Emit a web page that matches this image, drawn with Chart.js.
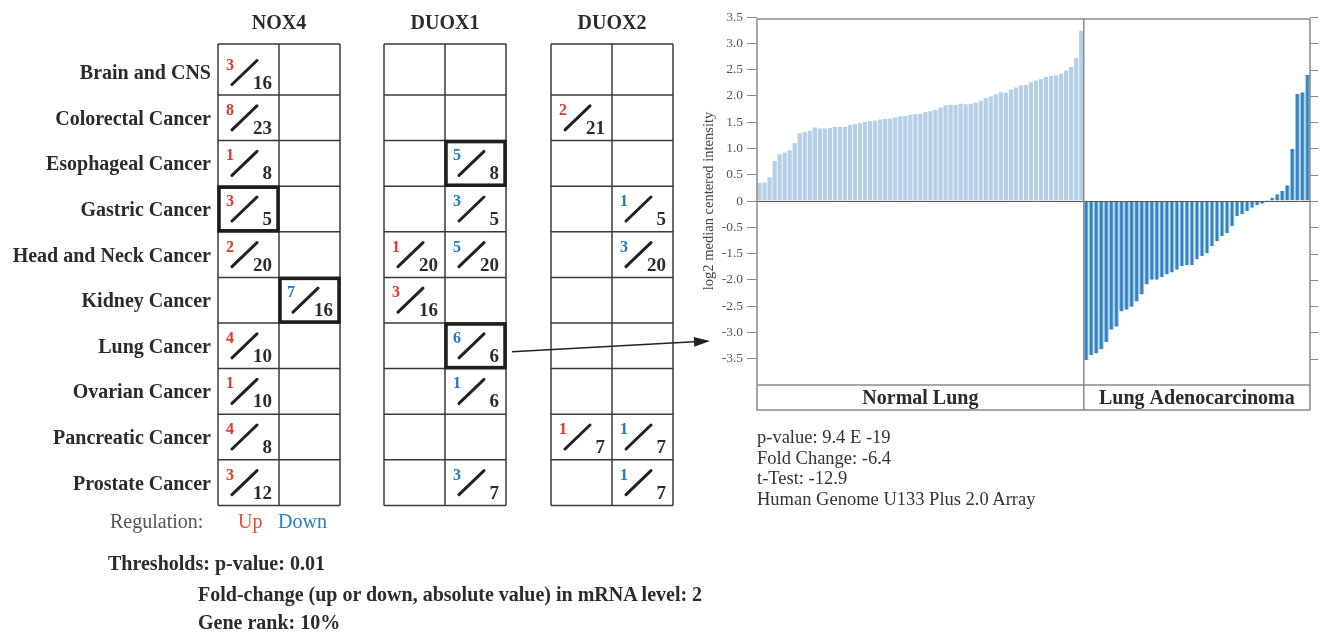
<!DOCTYPE html>
<html><head><meta charset="utf-8">
<script src="https://cdn.jsdelivr.net/npm/chart.js@4.4.0/dist/chart.umd.min.js"></script>
<style>
html,body{margin:0;padding:0;background:#fff;width:1320px;height:633px;overflow:hidden;}
#wrap{position:relative;width:1320px;height:633px;}
#chartBox{position:absolute;left:690px;top:0;width:630px;height:420px;}
#overlay{position:absolute;left:0;top:0;width:1320px;height:633px;pointer-events:none;}
</style></head><body>
<div id="wrap">
  <div id="chartBox"><canvas id="c" width="630" height="420"></canvas></div>
  <svg id="overlay" width="1320" height="633" xmlns="http://www.w3.org/2000/svg"></svg>
</div>
<script>
// ---------- DATA ----------
const cancerTypes = ["Brain and CNS","Colorectal Cancer","Esophageal Cancer","Gastric Cancer","Head and Neck Cancer","Kidney Cancer","Lung Cancer","Ovarian Cancer","Pancreatic Cancer","Prostate Cancer"];
const genes = ["NOX4","DUOX1","DUOX2"];
// number of analyses with significant regulation / total analyses (null = none)
const nox4UpCount    = [3,8,1,3,2,null,4,1,4,3];
const nox4UpTotal    = [16,23,8,5,20,null,10,10,8,12];
const nox4DownCount  = [null,null,null,null,null,7,null,null,null,null];
const nox4DownTotal  = [null,null,null,null,null,16,null,null,null,null];
const duox1UpCount   = [null,null,null,null,1,3,null,null,null,null];
const duox1UpTotal   = [null,null,null,null,20,16,null,null,null,null];
const duox1DownCount = [null,null,5,3,5,null,6,1,null,3];
const duox1DownTotal = [null,null,8,5,20,null,6,6,null,7];
const duox2UpCount   = [null,2,null,null,null,null,null,null,1,null];
const duox2UpTotal   = [null,21,null,null,null,null,null,null,7,null];
const duox2DownCount = [null,null,null,1,3,null,null,null,1,1];
const duox2DownTotal = [null,null,null,5,20,null,null,null,7,7];
// highlighted cells: [gene, direction, cancer type]
const highlightedCells = [["NOX4","up","Gastric Cancer"],["NOX4","down","Kidney Cancer"],["DUOX1","down","Esophageal Cancer"],["DUOX1","down","Lung Cancer"]];

const groupNames = ["Normal Lung","Lung Adenocarcinoma"];
const normalLung = [0.34,0.35,0.45,0.76,0.89,0.92,0.96,1.10,1.29,1.31,1.34,1.40,1.38,1.38,1.39,1.41,1.41,1.41,1.45,1.46,1.48,1.51,1.52,1.53,1.55,1.56,1.57,1.59,1.61,1.62,1.64,1.65,1.66,1.69,1.71,1.73,1.78,1.82,1.83,1.83,1.85,1.84,1.85,1.87,1.91,1.96,1.99,2.03,2.07,2.06,2.12,2.16,2.20,2.21,2.26,2.29,2.32,2.36,2.38,2.39,2.42,2.48,2.55,2.72,3.24];
const lungAdeno = [-3.03,-2.93,-2.90,-2.82,-2.68,-2.45,-2.39,-2.10,-2.07,-2.01,-1.91,-1.78,-1.59,-1.50,-1.50,-1.45,-1.40,-1.36,-1.31,-1.24,-1.22,-1.22,-1.11,-1.05,-0.99,-0.86,-0.76,-0.67,-0.61,-0.48,-0.29,-0.25,-0.19,-0.13,-0.08,-0.05,0.02,0.06,0.13,0.19,0.30,0.99,2.04,2.07,2.40];
const yTickValues = [-3,-2.5,-2,-1.5,-1,-0.5,0,0.5,1,1.5,2,2.5,3,3.5];
const yTickLabels = ["-3.5","-3.0","-2.5","-2.0","-1.5","-0.5","0","0.5","1.0","1.5","2.0","2.5","3.0","3.5"];
const statsLines = ["p-value: 9.4 E -19","Fold Change: -6.4","t-Test: -12.9","Human Genome U133 Plus 2.0 Array"];
const thresholdLines = ["Thresholds: p-value: 0.01","Fold-change (up or down, absolute value) in mRNA level: 2","Gene rank: 10%"];

// ---------- CHART ----------
const SERIF = '"Liberation Serif","Times New Roman",serif';
const nN = normalLung.length, nT = lungAdeno.length;
const sampleLabels = [...normalLung.map((_,i)=>'N'+(i+1)), ...lungAdeno.map((_,i)=>'T'+(i+1))];
const normalData = [...normalLung, ...lungAdeno.map(()=>null)];
const adenoData = [...normalLung.map(()=>null), ...lungAdeno];

const framePlugin = {
  id:'frame',
  afterDatasetsDraw(chart){
    const {ctx, chartArea:a, scales:{x,y}} = chart;
    const band = 25;
    ctx.save();
    const y0 = y.getPixelForValue(0);
    ctx.strokeStyle = '#5a5a5a'; ctx.lineWidth = 1;
    ctx.beginPath(); ctx.moveTo(a.left, y0+0.5); ctx.lineTo(a.right, y0+0.5); ctx.stroke();
    ctx.strokeStyle = '#8a8a8a'; ctx.lineWidth = 1.5;
    ctx.strokeRect(a.left, a.top+2, a.right-a.left, a.bottom+band-a.top-2);
    ctx.beginPath(); ctx.moveTo(a.left, a.bottom); ctx.lineTo(a.right, a.bottom); ctx.stroke();
    const div = (x.getPixelForValue(nN-1)+x.getPixelForValue(nN))/2;
    ctx.beginPath(); ctx.moveTo(div, a.top+2); ctx.lineTo(div, a.bottom+band); ctx.stroke();
    ctx.lineWidth = 1; ctx.strokeStyle = '#8a8a8a';
    yTickValues.forEach(v=>{const p=Math.round(y.getPixelForValue(v))+0.5; ctx.beginPath(); ctx.moveTo(a.right, p); ctx.lineTo(a.right+8, p); ctx.stroke();});
    ctx.fillStyle = '#2b2b2b'; ctx.font = 'bold 20px '+SERIF; ctx.textAlign='center'; ctx.textBaseline='middle';
    ctx.fillText(groupNames[0], (a.left+div)/2, a.bottom+band/2+1);
    ctx.fillText(groupNames[1], (div+a.right)/2, a.bottom+band/2+1);
    ctx.restore();
  }
};

new Chart(document.getElementById('c'), {
  type:'bar',
  data:{labels:sampleLabels, datasets:[
    {label:groupNames[0], data:normalData, backgroundColor:'#b5cfe6', grouped:false, barPercentage:0.84, categoryPercentage:1},
    {label:groupNames[1], data:adenoData, backgroundColor:'#3582c0', borderColor:'#8fc0e8', borderWidth:{left:1,right:1,top:0,bottom:0}, grouped:false, barPercentage:0.95, categoryPercentage:1}
  ]},
  options:{
    animation:false, responsive:false, maintainAspectRatio:false,
    layout:{padding:{left:0,right:10,top:17,bottom:35}},
    plugins:{legend:{display:false}, tooltip:{enabled:false}},
    scales:{
      x:{display:false, offset:true},
      y:{min:-3.5, max:3.5,
        afterBuildTicks:s=>{s.ticks = yTickValues.map(v=>({value:v}));},
        afterFit:s=>{s.width = 67;},
        ticks:{callback:(v)=>yTickLabels[yTickValues.indexOf(v)], font:{family:SERIF,size:13.5}, color:'#555', padding:4},
        grid:{drawOnChartArea:false, tickLength:10, color:'#8a8a8a'},
        border:{display:false},
        title:{display:true, text:'log2 median centered intensity', font:{family:SERIF,size:14.5}, color:'#444', padding:{top:10,bottom:0}}
      }
    }
  },
  plugins:[framePlugin]
});

// ---------- TABLE (SVG) ----------
const svg = document.getElementById('overlay');
const NS = 'http://www.w3.org/2000/svg';
function el(tag, attrs, text){const e=document.createElementNS(NS,tag); for(const k in attrs) e.setAttribute(k,attrs[k]); if(text!==undefined) e.textContent=text; svg.appendChild(e); return e;}
const TXT = '#2b2b2b', RED = '#e2372b', BLUE = '#1f7ac0';
const gridLefts = [218, 384, 551], colW = 61;
function rowEdge(i){return i===0 ? 44 : 95 + (i-1)*45.6;}
const labelRight = 211;

const counts = {NOX4:[[nox4UpCount,nox4UpTotal],[nox4DownCount,nox4DownTotal]],
                DUOX1:[[duox1UpCount,duox1UpTotal],[duox1DownCount,duox1DownTotal]],
                DUOX2:[[duox2UpCount,duox2UpTotal],[duox2DownCount,duox2DownTotal]]};

cancerTypes.forEach((name,i)=>{
  const c = (rowEdge(i)+rowEdge(i+1))/2 + (i===0?2:0);
  el('text',{x:labelRight, y:c+7, 'text-anchor':'end', 'font-family':SERIF, 'font-size':20, 'font-weight':'bold', fill:TXT}, name);
});

genes.forEach((g,gi)=>{
  const x0 = gridLefts[gi];
  el('text',{x:x0+colW, y:29, 'text-anchor':'middle', 'font-family':SERIF, 'font-size':20, 'font-weight':'bold', fill:TXT}, g);
  for(let i=0;i<=cancerTypes.length;i++){
    const y = rowEdge(i);
    el('line',{x1:x0, x2:x0+2*colW, y1:y, y2:y, stroke:'#3a3a3a', 'stroke-width':1.5});
  }
  for(let k=0;k<=2;k++){
    el('line',{x1:x0+k*colW, x2:x0+k*colW, y1:rowEdge(0), y2:rowEdge(cancerTypes.length), stroke:'#3a3a3a', 'stroke-width':1.5});
  }
  counts[g].forEach(([num,tot],dir)=>{
    cancerTypes.forEach((name,i)=>{
      if(num[i]===null) return;
      const x = x0 + dir*colW;
      const c = (rowEdge(i)+rowEdge(i+1))/2 + (i===0?3:0);
      el('text',{x:x+8, y:c-3, 'font-family':SERIF, 'font-size':16, 'font-weight':'bold', fill: dir===0?RED:BLUE}, String(num[i]));
      el('line',{x1:x+14, y1:c+12, x2:x+39, y2:c-12, stroke:'#222', 'stroke-width':3, 'stroke-linecap':'round'});
      el('text',{x:x+54, y:c+16, 'text-anchor':'end', 'font-family':SERIF, 'font-size':19, 'font-weight':'bold', fill:TXT}, String(tot[i]));
    });
  });
});
highlightedCells.forEach(([g,dir,name])=>{
  const gi = genes.indexOf(g), d = dir==='up'?0:1, i = cancerTypes.indexOf(name);
  const x = gridLefts[gi] + d*colW, y1 = rowEdge(i), y2 = rowEdge(i+1);
  el('rect',{x:x+1, y:y1+1, width:colW-2, height:y2-y1-2, fill:'none', stroke:'#1e1e1e', 'stroke-width':3.5});
});

// arrow from DUOX1 lung cell to chart
{
  const i = cancerTypes.indexOf('Lung Cancer');
  const sx = gridLefts[1]+2*colW+6, sy = (rowEdge(i)+rowEdge(i+1))/2 + 6;
  const ex = 710, ey = 341;
  const ang = Math.atan2(ey-sy, ex-sx), L = 16, W = 5;
  const bx = ex - L*Math.cos(ang), by = ey - L*Math.sin(ang);
  el('line',{x1:sx, y1:sy, x2:bx, y2:by, stroke:'#222', 'stroke-width':1.5});
  el('polygon',{points:`${ex},${ey} ${bx+W*Math.sin(ang)},${by-W*Math.cos(ang)} ${bx-W*Math.sin(ang)},${by+W*Math.cos(ang)}`, fill:'#222'});
}

// legend
el('text',{x:110, y:528, 'font-family':SERIF, 'font-size':20, fill:'#555'}, 'Regulation:');
el('text',{x:238, y:528, 'font-family':SERIF, 'font-size':20, fill:'#e4502f'}, 'Up');
el('text',{x:278, y:528, 'font-family':SERIF, 'font-size':20, fill:'#2b7fc1'}, 'Down');
el('text',{x:108, y:570, 'font-family':SERIF, 'font-size':20, 'font-weight':'bold', fill:TXT}, thresholdLines[0]);
el('text',{x:198, y:601, 'font-family':SERIF, 'font-size':20, 'font-weight':'bold', fill:TXT}, thresholdLines[1]);
el('text',{x:198, y:629, 'font-family':SERIF, 'font-size':20, 'font-weight':'bold', fill:TXT}, thresholdLines[2]);

// stats under chart
statsLines.forEach((s,k)=>{
  el('text',{x:757, y:443+k*20.7, 'font-family':SERIF, 'font-size':18.5, fill:'#333'}, s);
});
</script>
</body></html>
